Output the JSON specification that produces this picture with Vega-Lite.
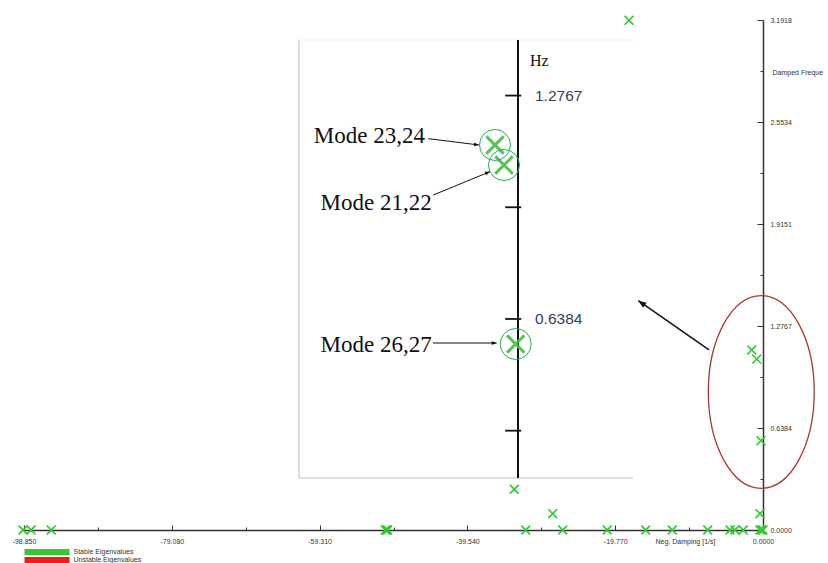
{
  "$schema": "https://vega.github.io/schema/vega-lite/v6.json",
  "width": 739,
  "height": 510,
  "autosize": {"type": "none"},
  "padding": {"left": 24, "top": 20, "right": 65, "bottom": 33},
  "background": "white",
  "config": {"view": {"stroke": null}},
  "datasets": {
    "eig": [
      {"damping": -17.92, "freq": 3.19, "status": "Stable Eigenvalues"},
      {"damping": -33.27, "freq": 0.255, "status": "Stable Eigenvalues"},
      {"damping": -28.13, "freq": 0.102, "status": "Stable Eigenvalues"},
      {"damping": -1.51, "freq": 1.127, "status": "Stable Eigenvalues"},
      {"damping": -0.84, "freq": 1.07, "status": "Stable Eigenvalues"},
      {"damping": -0.27, "freq": 0.559, "status": "Stable Eigenvalues"},
      {"damping": -0.4, "freq": 0.102, "status": "Stable Eigenvalues"},
      {"damping": -98.98, "freq": 0, "status": "Stable Eigenvalues"},
      {"damping": -97.9, "freq": 0, "status": "Stable Eigenvalues"},
      {"damping": -95.2, "freq": 0, "status": "Stable Eigenvalues"},
      {"damping": -50.5, "freq": 0, "status": "Stable Eigenvalues"},
      {"damping": -50.35, "freq": 0, "status": "Stable Eigenvalues"},
      {"damping": -50.2, "freq": 0, "status": "Stable Eigenvalues"},
      {"damping": -31.74, "freq": 0, "status": "Stable Eigenvalues"},
      {"damping": -26.79, "freq": 0, "status": "Stable Eigenvalues"},
      {"damping": -20.83, "freq": 0, "status": "Stable Eigenvalues"},
      {"damping": -15.69, "freq": 0, "status": "Stable Eigenvalues"},
      {"damping": -12.13, "freq": 0, "status": "Stable Eigenvalues"},
      {"damping": -7.4, "freq": 0, "status": "Stable Eigenvalues"},
      {"damping": -4.41, "freq": 0, "status": "Stable Eigenvalues"},
      {"damping": -3.75, "freq": 0, "status": "Stable Eigenvalues"},
      {"damping": -2.64, "freq": 0, "status": "Stable Eigenvalues"},
      {"damping": -0.4, "freq": 0, "status": "Stable Eigenvalues"},
      {"damping": -0.15, "freq": 0, "status": "Stable Eigenvalues"},
      {"damping": 0, "freq": 0, "status": "Stable Eigenvalues"}
    ],
    "ellipse": [{"damping": -0.23, "freq": 0.8637}],
    "pointer": [{"damping": -7.22, "freq": 1.1266, "damping_end": -16.68, "freq_end": 1.435}],
    "frame": [{"x1": -13.69, "x2": 7.19, "y1": 0.184, "y2": 1.4355}],
    "inset_ticks": [
      {"v": 1.2767, "label": "1.2767"},
      {"v": 0.9575, "label": ""},
      {"v": 0.6384, "label": "0.6384"},
      {"v": 0.3192, "label": ""}
    ],
    "inset_unit": [{"v": 1.3755, "label": "Hz"}],
    "modes": [
      {"mode": "Mode 23,24", "damping": -1.4375, "freq": 1.1355, "label_x": -5.8125, "label_y": 1.1612, "from_x": -5.606, "from_y": 1.1535, "to_x": -2.4375, "to_y": 1.1355},
      {"mode": "Mode 21,22", "damping": -0.875, "freq": 1.0783, "label_x": -5.394, "label_y": 0.9689, "from_x": -5.294, "from_y": 0.9926, "to_x": -1.75, "to_y": 1.0592},
      {"mode": "Mode 26,27", "damping": -0.144, "freq": 0.5669, "label_x": -5.394, "label_y": 0.564, "from_x": -5.3125, "from_y": 0.5697, "to_x": -1.331, "to_y": 0.5697}
    ]
  },
  "layer": [
    {
      "data": {"name": "ellipse"},
      "mark": {"type": "point", "shape": "M 0 -1 C 0.304 -1 0.55 -0.552 0.55 0 C 0.55 0.552 0.304 1 0 1 C -0.304 1 -0.55 0.552 -0.55 0 C -0.55 -0.552 -0.304 -1 0 -1 Z", "filled": false, "size": 37095, "stroke": "#a33a35", "strokeWidth": 1.3, "opacity": 1},
      "encoding": {
        "x": {
          "field": "damping", "type": "quantitative",
          "scale": {"domain": [-98.85, 0], "nice": false, "zero": false},
          "axis": {"orient": "bottom", "values": [-88.965, -69.195, -49.425, -29.655, -9.885], "labels": false, "domain": false, "grid": false, "title": null, "tickSize": -3, "tickColor": "#333333", "tickWidth": 1}
        },
        "y": {
          "field": "freq", "type": "quantitative",
          "scale": {"domain": [0, 3.1918], "nice": false, "zero": false},
          "axis": {"orient": "right", "values": [0.31918, 0.95754, 1.5959, 2.23426, 2.87262], "labels": false, "domain": false, "grid": false, "title": null, "tickSize": -3, "tickColor": "#333333", "tickWidth": 1}
        }
      }
    },
    {
      "data": {"name": "pointer"},
      "mark": {"type": "rule", "color": "#111111", "strokeWidth": 1.5},
      "encoding": {
        "x": {"field": "damping", "type": "quantitative", "scale": {"domain": [-98.85, 0], "nice": false, "zero": false}, "axis": null},
        "y": {"field": "freq", "type": "quantitative", "scale": {"domain": [0, 3.1918], "nice": false, "zero": false}, "axis": null},
        "x2": {"field": "damping_end"},
        "y2": {"field": "freq_end"}
      }
    },
    {
      "data": {"name": "pointer"},
      "mark": {"type": "point", "shape": "M 0 0 L -2 -0.75 L -2 0.75 Z", "filled": true, "size": 64, "angle": 214.9, "color": "#111111", "opacity": 1},
      "encoding": {
        "x": {"field": "damping_end", "type": "quantitative", "scale": {"domain": [-98.85, 0], "nice": false, "zero": false}, "axis": null},
        "y": {"field": "freq_end", "type": "quantitative", "scale": {"domain": [0, 3.1918], "nice": false, "zero": false}, "axis": null}
      }
    },
    {
      "data": {"name": "eig"},
      "mark": {"type": "point", "shape": "M -1 -0.77 L -0.77 -1 L 0 -0.23 L 0.77 -1 L 1 -0.77 L 0.23 0 L 1 0.77 L 0.77 1 L 0 0.23 L -0.77 1 L -1 0.77 L -0.23 0 Z", "filled": true, "size": 100, "opacity": 1},
      "encoding": {
        "x": {
          "field": "damping", "type": "quantitative",
          "scale": {"domain": [-98.85, 0], "nice": false, "zero": false},
          "axis": {
            "orient": "bottom",
            "values": [-98.85, -79.08, -59.31, -39.54, -19.77, 0],
            "labelExpr": "datum.value == 0 ? '0.0000' : (datum.value < 0 ? '-' : '') + format(abs(datum.value), '.3f')",
            "tickSize": -5,
            "tickColor": "#333333",
            "tickWidth": 1,
            "labelPadding": 12,
            "labelFont": "Liberation Sans",
            "labelFontSize": 7,
            "labelColor": "#333333",
            "labelFlush": false,
            "labelOverlap": false,
            "labelBound": false,
            "domainColor": "#333333",
            "domainWidth": 1.5,
            "grid": false,
            "title": "Neg. Damping [1/s]",
            "titleFont": "Liberation Sans",
            "titleFontSize": 7,
            "titleFontWeight": "normal",
            "titleColor": "#333333",
            "titleX": 631,
            "titleY": 11,
            "titleAlign": "left",
            "titleBaseline": "middle"
          }
        },
        "y": {
          "field": "freq", "type": "quantitative",
          "scale": {"domain": [0, 3.1918], "nice": false, "zero": false},
          "axis": {
            "orient": "right",
            "values": [0, 0.63836, 1.27672, 1.91508, 2.55344, 3.1918],
            "labelExpr": "format(datum.value, '.4f')",
            "tickSize": -6,
            "tickColor": "#333333",
            "tickWidth": 1,
            "labelPadding": 13,
            "labelFont": "Liberation Sans",
            "labelFontSize": 7,
            "labelColor": "#333333",
            "labelFlush": false,
            "labelOverlap": false,
            "labelBound": false,
            "domainColor": "#333333",
            "domainWidth": 1.5,
            "grid": false,
            "title": "Damped Freque",
            "titleFont": "Liberation Sans",
            "titleFontSize": 7,
            "titleFontWeight": "normal",
            "titleColor": "#333333",
            "titleAngle": 0,
            "titleX": 9,
            "titleY": 52,
            "titleAlign": "left",
            "titleBaseline": "middle"
          }
        },
        "color": {
          "field": "status", "type": "nominal",
          "scale": {"domain": ["Stable Eigenvalues", "Unstable Eigenvalues"], "range": ["#2ecc2e", "#ee1c1c"]},
          "legend": {
            "orient": "none",
            "legendX": 19.5,
            "legendY": 528.5,
            "title": null,
            "direction": "vertical",
            "symbolType": "M -22.5 -2.9 L 22.5 -2.9 L 22.5 2.9 L -22.5 2.9 Z",
            "symbolSize": 4,
            "symbolStrokeWidth": 0,
            "symbolOpacity": 1,
            "labelFont": "Liberation Sans",
            "labelFontSize": 7,
            "labelColor": "#333333",
            "labelOffset": 23,
            "rowPadding": 0,
            "padding": 0
          }
        }
      }
    },
    {
      "data": {"name": "frame"},
      "mark": {"type": "rect", "fill": "white", "stroke": null},
      "encoding": {
        "x": {"field": "x1", "type": "quantitative", "scale": {"domain": [-30.875, 15.3125], "nice": false, "zero": false}, "axis": null},
        "x2": {"field": "x2"},
        "y": {"field": "y1", "type": "quantitative", "scale": {"domain": [0.0354, 1.4926], "nice": false, "zero": false}, "axis": null},
        "y2": {"field": "y2"}
      }
    },
    {
      "data": {"name": "frame"},
      "mark": {"type": "rule", "color": "#bdbdbd", "strokeWidth": 1},
      "encoding": {
        "x": {"field": "x1", "type": "quantitative", "scale": {"domain": [-30.875, 15.3125], "nice": false, "zero": false}, "axis": null},
        "y": {"field": "y1", "type": "quantitative", "scale": {"domain": [0.0354, 1.4926], "nice": false, "zero": false}, "axis": null},
        "y2": {"field": "y2"}
      }
    },
    {
      "data": {"name": "frame"},
      "mark": {"type": "rule", "color": "#c4c4c4", "strokeWidth": 1},
      "encoding": {
        "x": {"field": "x1", "type": "quantitative", "scale": {"domain": [-30.875, 15.3125], "nice": false, "zero": false}, "axis": null},
        "x2": {"field": "x2"},
        "y": {"field": "y1", "type": "quantitative", "scale": {"domain": [0.0354, 1.4926], "nice": false, "zero": false}, "axis": null}
      }
    },
    {
      "data": {"name": "frame"},
      "mark": {"type": "rule", "color": "#f2f2f2", "strokeWidth": 1},
      "encoding": {
        "x": {"field": "x1", "type": "quantitative", "scale": {"domain": [-30.875, 15.3125], "nice": false, "zero": false}, "axis": null},
        "x2": {"field": "x2"},
        "y": {"field": "y2", "type": "quantitative", "scale": {"domain": [0.0354, 1.4926], "nice": false, "zero": false}, "axis": null}
      }
    },
    {
      "data": {"name": "frame"},
      "mark": {"type": "rule", "color": "#111111", "strokeWidth": 2},
      "encoding": {
        "x": {"datum": 0, "type": "quantitative", "scale": {"domain": [-30.875, 15.3125], "nice": false, "zero": false}, "axis": null},
        "y": {"field": "y1", "type": "quantitative", "scale": {"domain": [0.0354, 1.4926], "nice": false, "zero": false}, "axis": null},
        "y2": {"field": "y2"}
      }
    },
    {
      "data": {"name": "inset_ticks"},
      "mark": {"type": "rule", "color": "#111111", "strokeWidth": 1.8},
      "encoding": {
        "x": {"datum": -0.8, "type": "quantitative", "scale": {"domain": [-30.875, 15.3125], "nice": false, "zero": false}, "axis": null},
        "x2": {"datum": 0.2},
        "y": {"field": "v", "type": "quantitative", "scale": {"domain": [0.0354, 1.4926], "nice": false, "zero": false}, "axis": null}
      }
    },
    {
      "data": {"name": "inset_ticks"},
      "transform": [{"filter": "datum.label != ''"}],
      "mark": {"type": "text", "align": "left", "baseline": "middle", "dx": 17, "font": "Liberation Sans", "fontSize": 15.5, "color": "#34405a"},
      "encoding": {
        "x": {"datum": 0, "type": "quantitative", "scale": {"domain": [-30.875, 15.3125], "nice": false, "zero": false}, "axis": null},
        "y": {"field": "v", "type": "quantitative", "scale": {"domain": [0.0354, 1.4926], "nice": false, "zero": false}, "axis": null},
        "text": {"field": "label"}
      }
    },
    {
      "data": {"name": "inset_unit"},
      "mark": {"type": "text", "align": "left", "baseline": "middle", "dx": 12, "font": "Liberation Serif", "fontSize": 16, "color": "#111111"},
      "encoding": {
        "x": {"datum": 0, "type": "quantitative", "scale": {"domain": [-30.875, 15.3125], "nice": false, "zero": false}, "axis": null},
        "y": {"field": "v", "type": "quantitative", "scale": {"domain": [0.0354, 1.4926], "nice": false, "zero": false}, "axis": null},
        "text": {"field": "label"}
      }
    },
    {
      "data": {"name": "modes"},
      "mark": {"type": "point", "shape": "M -1 -1 L 1 1 M -1 1 L 1 -1", "filled": false, "size": 300, "strokeWidth": 3, "color": "#46be46", "opacity": 0.9},
      "encoding": {
        "x": {"field": "damping", "type": "quantitative", "scale": {"domain": [-30.875, 15.3125], "nice": false, "zero": false}, "axis": null},
        "y": {"field": "freq", "type": "quantitative", "scale": {"domain": [0.0354, 1.4926], "nice": false, "zero": false}, "axis": null}
      }
    },
    {
      "data": {"name": "modes"},
      "mark": {"type": "point", "shape": "circle", "filled": false, "size": 961, "strokeWidth": 1, "color": "#22b14c", "opacity": 1},
      "encoding": {
        "x": {"field": "damping", "type": "quantitative", "scale": {"domain": [-30.875, 15.3125], "nice": false, "zero": false}, "axis": null},
        "y": {"field": "freq", "type": "quantitative", "scale": {"domain": [0.0354, 1.4926], "nice": false, "zero": false}, "axis": null}
      }
    },
    {
      "data": {"name": "modes"},
      "mark": {"type": "text", "align": "right", "baseline": "middle", "font": "Liberation Serif", "fontSize": 23, "color": "#111111"},
      "encoding": {
        "x": {"field": "label_x", "type": "quantitative", "scale": {"domain": [-30.875, 15.3125], "nice": false, "zero": false}, "axis": null},
        "y": {"field": "label_y", "type": "quantitative", "scale": {"domain": [0.0354, 1.4926], "nice": false, "zero": false}, "axis": null},
        "text": {"field": "mode"}
      }
    },
    {
      "data": {"name": "modes"},
      "mark": {"type": "rule", "color": "#111111", "strokeWidth": 1},
      "encoding": {
        "x": {"field": "from_x", "type": "quantitative", "scale": {"domain": [-30.875, 15.3125], "nice": false, "zero": false}, "axis": null},
        "y": {"field": "from_y", "type": "quantitative", "scale": {"domain": [0.0354, 1.4926], "nice": false, "zero": false}, "axis": null},
        "x2": {"field": "to_x"},
        "y2": {"field": "to_y"}
      }
    },
    {
      "data": {"name": "modes"},
      "transform": [{"filter": "datum.mode == 'Mode 23,24'"}],
      "mark": {"type": "point", "shape": "M 0 0 L -2 -0.75 L -2 0.75 Z", "filled": true, "size": 25, "angle": 7.1, "color": "#111111", "opacity": 1},
      "encoding": {
        "x": {"field": "to_x", "type": "quantitative", "scale": {"domain": [-30.875, 15.3125], "nice": false, "zero": false}, "axis": null},
        "y": {"field": "to_y", "type": "quantitative", "scale": {"domain": [0.0354, 1.4926], "nice": false, "zero": false}, "axis": null}
      }
    },
    {
      "data": {"name": "modes"},
      "transform": [{"filter": "datum.mode == 'Mode 21,22'"}],
      "mark": {"type": "point", "shape": "M 0 0 L -2 -0.75 L -2 0.75 Z", "filled": true, "size": 25, "angle": 337.7, "color": "#111111", "opacity": 1},
      "encoding": {
        "x": {"field": "to_x", "type": "quantitative", "scale": {"domain": [-30.875, 15.3125], "nice": false, "zero": false}, "axis": null},
        "y": {"field": "to_y", "type": "quantitative", "scale": {"domain": [0.0354, 1.4926], "nice": false, "zero": false}, "axis": null}
      }
    },
    {
      "data": {"name": "modes"},
      "transform": [{"filter": "datum.mode == 'Mode 26,27'"}],
      "mark": {"type": "point", "shape": "M 0 0 L -2 -0.75 L -2 0.75 Z", "filled": true, "size": 25, "angle": 0, "color": "#111111", "opacity": 1},
      "encoding": {
        "x": {"field": "to_x", "type": "quantitative", "scale": {"domain": [-30.875, 15.3125], "nice": false, "zero": false}, "axis": null},
        "y": {"field": "to_y", "type": "quantitative", "scale": {"domain": [0.0354, 1.4926], "nice": false, "zero": false}, "axis": null}
      }
    }
  ],
  "resolve": {"scale": {"x": "independent", "y": "independent"}}
}
